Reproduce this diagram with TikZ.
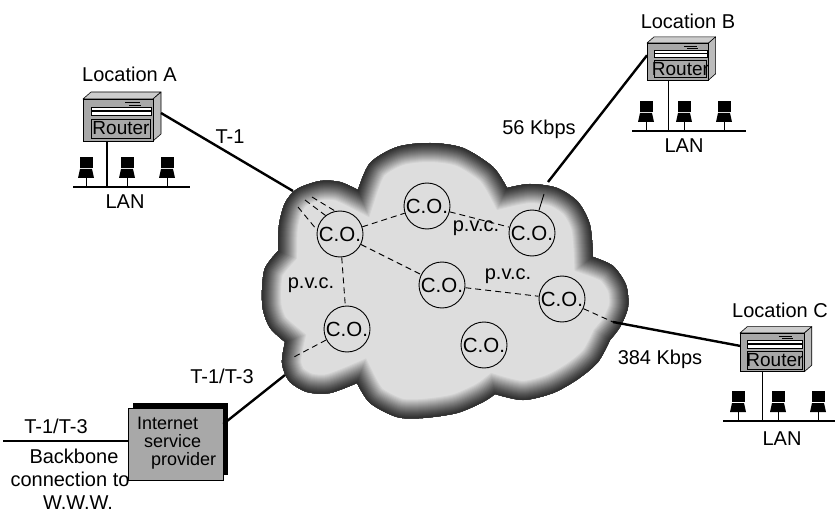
\documentclass[tikz,border=0pt]{standalone}
\usepackage{fontspec}
\setmainfont{Liberation Sans}
\usetikzlibrary{calc}

\definecolor{cloudlight}{RGB}{221,221,221}
\definecolor{clouddark}{RGB}{45,45,45}
\definecolor{facegray}{RGB}{168,168,168}
\definecolor{topgray}{RGB}{205,205,205}
\definecolor{sidegray}{RGB}{188,188,188}

% outline of the carrier cloud: one smooth run per lobe, cusps between lobes
\newcommand\cloudoutline{%
  plot[smooth] coordinates {(358,190) (370,163) (397,147) (430,143) (463,148) (493,167) (507,188)}
  -- plot[smooth] coordinates {(507,188) (530,184) (557,188) (578,202) (590,225) (593,257)}
  -- plot[smooth] coordinates {(593,257) (613,266) (626,285) (628,307) (620,327) (610,340)}
  -- plot[smooth] coordinates {(610,340) (598,362) (578,379) (553,393) (523,400) (495,394)}
  -- plot[smooth] coordinates {(495,394) (483,402) (457,413) (423,418) (397,417) (370,403) (357,383)}
  -- plot[smooth] coordinates {(357,383) (330,393) (307,392) (289,381) (282,363) (285,342)}
  -- plot[smooth] coordinates {(285,342) (270,328) (263,310) (262,290) (265,268) (278,251)}
  -- plot[smooth] coordinates {(278,251) (279,225) (285,203) (297,189) (320,181) (340,182) (358,190)}
  -- cycle}

\tikzset{
  lbl/.style={font=\fontsize{20}{24}\selectfont, inner sep=0pt},
  isptext/.style={font=\fontsize{18}{20}\selectfont, inner sep=0pt, anchor=base west},
  co/.style={circle, draw, line width=0.9pt, minimum size=46pt, inner sep=0pt,
    font=\fontsize{20.5}{24}\selectfont},
  pvclink/.style={line width=0.9pt, dash pattern=on 6pt off 4pt},
  trunk/.style={line width=2.4pt},
  lanwire/.style={line width=1.1pt},
  ispbox/.style={draw, fill=facegray, line width=0.6pt, minimum width=95pt, minimum height=72pt,
    preaction={fill=black, transform canvas={xshift=5pt, yshift=5pt}}},
  router/.pic={
    \filldraw[fill=topgray, line width=0.6pt, line join=round]
      (0,0) -- (8,-7) -- (78,-7) -- (70,0) -- cycle;
    \filldraw[fill=sidegray, line width=0.6pt, line join=round]
      (70,0) -- (78,-7) -- (78,35) -- (70,42) -- cycle;
    \filldraw[fill=facegray, line width=0.6pt] (0,0) rectangle (70,42);
    \filldraw[fill=white, line width=0.5pt] (8,8) rectangle (68,11.5);
    \filldraw[fill=white, line width=0.5pt] (8,12) rectangle (68,16.5);
    \draw[line width=1pt] (42,4) -- (57,4);
    \draw[line width=0.6pt] (46,6.3) -- (58,6.3);
    \filldraw[fill=facegray, line width=0.5pt] (8,20) rectangle (67.5,39);
    \node[font=\fontsize{19}{20}\selectfont, inner sep=0pt] (-label) at (38,29.5) {Router};
    \coordinate (-west) at (0,14);
    \coordinate (-east) at (78,14);
    \coordinate (-south) at (24,42);
  },
  pc/.pic={
    \draw[line width=0.9pt] (0,0) -- (0,-10);
    \fill (-8,-9) -- (8,-9) -- (6,-18) -- (-6,-18) -- cycle;
    \fill (-6.5,-19) rectangle (6.5,-30);
  }
}

\begin{document}
\begin{tikzpicture}[x=1pt,y=-1pt]
\useasboundingbox (0,0) rectangle (835,513);

% ---------- the cloud with its darkened rim ----------
\begin{scope}
  \clip \cloudoutline;
  \fill[cloudlight] \cloudoutline;
  \foreach \k in {20,19,...,1}{
    \pgfmathsetmacro\mixp{100*(\k/20)^1.25}
    \draw[line width=2pt*\k, color=cloudlight!\mixp!clouddark] \cloudoutline;
  }
\end{scope}

% ---------- points where the access lines meet the cloud ----------
\coordinate (t1end) at (293,191);
\coordinate (fanA) at (298,207);
\coordinate (fanB) at (305,200);
\coordinate (fanC) at (312,197);
\coordinate (k56end) at (548,182);
\coordinate (k56in) at (544,194);
\coordinate (k384) at (613,322);
\coordinate (ispend) at (285,375);
\coordinate (ispin) at (292,358);
\coordinate (bbend) at (3,441);

% ---------- central offices ----------
\node[co] (co1) at (340,234) {C.O.};
\node[co] (co2) at (427,206) {C.O.};
\node[co] (co3) at (532,233) {C.O.};
\node[co] (co4) at (442,285) {C.O.};
\node[co] (co5) at (562,299) {C.O.};
\node[co] (co6) at (347,329) {C.O.};
\node[co] (co7) at (484,345) {C.O.};

% ---------- virtual circuits ----------
\draw[pvclink] (co1) -- (co2);
\draw[pvclink] (co2) -- (co3);
\draw[pvclink] (co1) -- (co4);
\draw[pvclink] (co4) -- (co5);
\draw[pvclink] (co1) -- (co6);
\draw[pvclink] (co6) -- (ispin);
\draw[pvclink] (co5) -- (k384);
\draw[pvclink] (fanA) -- (co1.170);
\draw[pvclink] (fanB) -- (co1.128);
\draw[pvclink] (fanC) -- (co1.102);
\draw[line width=0.9pt] (k56in) -- (co3);

\node[lbl] (pvc1) at (476,228) {p.v.c.};
\node[lbl] (pvc2) at (508,276) {p.v.c.};
\node[lbl] (pvc3) at (311,285) {p.v.c.};

% ---------- routers ----------
\pic (ra) at (83,99) {router};
\pic[scale=0.88] (rb) at (647,43) {router};
\pic[scale=0.92] (rc) at (740,333) {router};

% ---------- access lines ----------
\draw[trunk] (ra-east) -- (t1end);
\draw[trunk] (rb-west) -- (k56end);
\draw[trunk] (k384) -- (rc-west);

% ---------- LAN at location A ----------
\coordinate (lanAl) at (73,187);
\coordinate (lanAr) at (190,187);
\draw[lanwire] (lanAl) -- (lanAr);
\draw[lanwire] (ra-south) -- (ra-south |- lanAl);
\pic at (86,187) {pc};
\pic at (127,187) {pc};
\pic at (167,187) {pc};

% ---------- LAN at location B ----------
\coordinate (lanBl) at (632,131);
\coordinate (lanBr) at (746,131);
\draw[lanwire] (lanBl) -- (lanBr);
\draw[lanwire] (rb-south) -- (rb-south |- lanBl);
\pic at (646,131) {pc};
\pic at (684,131) {pc};
\pic at (724,131) {pc};

% ---------- LAN at location C ----------
\coordinate (lanCl) at (723,421);
\coordinate (lanCr) at (835,421);
\draw[lanwire] (lanCl) -- (lanCr);
\draw[lanwire] (rc-south) -- (rc-south |- lanCl);
\pic at (738,421) {pc};
\pic at (778,421) {pc};
\pic at (818,421) {pc};

% ---------- Internet service provider ----------
\node[ispbox] (isp) at (175.5,444) {};
\node[isptext] (ispl1) at (137,429.5) {Internet};
\node[isptext] (ispl2) at (144,447.5) {service};
\node[isptext] (ispl3) at (151,465) {provider};
\draw[trunk] ([yshift=20pt]isp.east) -- (ispend);
\draw[trunk] (bbend) -- ([yshift=3pt]isp.west);

% ---------- labels ----------
\node[lbl, anchor=base] (locA) at (129.5,81.5) {Location A};
\node[lbl, anchor=base] (locB) at (688,28.5) {Location B};
\node[lbl, anchor=base] (locC) at (780,317) {Location C};
\node[lbl, anchor=base] (lanA) at (125,208) {LAN};
\node[lbl, anchor=base] (lanB) at (684,153) {LAN};
\node[lbl, anchor=base] (lanC) at (782,445) {LAN};
\node[lbl, anchor=base] (t1) at (230,144) {T-1};
\node[lbl, anchor=base] (k56) at (539,135) {56 Kbps};
\node[lbl, anchor=base] (k384l) at (660,364) {384 Kbps};
\node[lbl, anchor=base] (t13a) at (222,383) {T-1/T-3};
\node[lbl, anchor=base] (t13b) at (56,433) {T-1/T-3};
\node[lbl, anchor=base] (bb1) at (74,463) {Backbone};
\node[lbl, anchor=base] (bb2) at (70,486.5) {connection to};
\node[lbl, anchor=base] (bb3) at (78,509.5) {W.W.W.};
\end{tikzpicture}
\end{document}
